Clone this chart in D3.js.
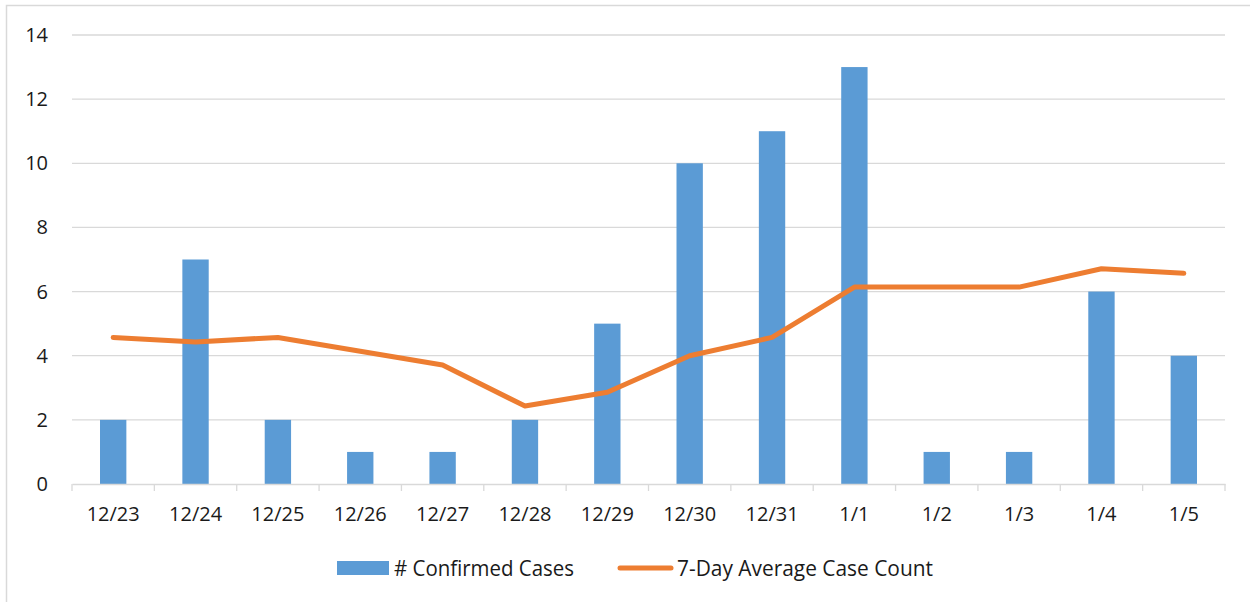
<!DOCTYPE html>
<html>
<head>
<meta charset="utf-8">
<script src="https://cdn.jsdelivr.net/npm/d3@7"></script>
<style>
  body { margin: 0; background: #fff; }
  svg text { font-family: "Open Sans", "Noto Sans", sans-serif; fill: #1a1a1a; }
</style>
</head>
<body>
<svg id="svgId"></svg>
<script>
// chart data
var days = ["12/23", "12/24", "12/25", "12/26", "12/27", "12/28", "12/29",
            "12/30", "12/31", "1/1", "1/2", "1/3", "1/4", "1/5"];
var confirmed = [2, 7, 2, 1, 1, 2, 5, 10, 11, 13, 1, 1, 6, 4];
var avg7 = [4.57, 4.43, 4.57, 4.14, 3.71, 2.43, 2.86, 4.0, 4.57, 6.14, 6.14, 6.14, 6.71, 6.57];
var yTicks = [0, 2, 4, 6, 8, 10, 12, 14];
var seriesNames = ["# Confirmed Cases", "7-Day Average Case Count"];

function drawChart() {
    var svgWidth = 1250, svgHeight = 602;
    var margin = { top: 35, right: 25, bottom: 118, left: 72 };
    var width = svgWidth - margin.left - margin.right;
    var height = svgHeight - margin.top - margin.bottom;

    var svg = d3.select("#svgId")
        .attr("width", svgWidth)
        .attr("height", svgHeight);

    // outer frame
    svg.append("rect")
        .attr("x", 6.5).attr("y", 5.5)
        .attr("width", 1300).attr("height", 700)
        .attr("fill", "none")
        .attr("stroke", "#d9d9d9")
        .attr("stroke-width", 1.5);

    var g = svg.append("g")
        .attr("transform", "translate(" + margin.left + "," + margin.top + ")");

    var x = d3.scaleBand().domain(days).range([0, width]).paddingInner(0.68).paddingOuter(0.34);
    var xc = d3.scaleBand().domain(days).range([0, width]);
    var y = d3.scaleLinear().domain([0, 14]).range([height, 0]);

    // gridlines
    g.append("g").selectAll("line")
        .data(yTicks.slice(1))
        .join("line")
        .attr("x1", 0).attr("x2", width)
        .attr("y1", function (d) { return y(d); })
        .attr("y2", function (d) { return y(d); })
        .attr("stroke", "#d9d9d9")
        .attr("stroke-width", 1.3);

    // y axis labels
    g.append("g").selectAll("text")
        .data(yTicks)
        .join("text")
        .attr("x", -24)
        .attr("y", function (d) { return y(d); })
        .attr("dy", "0.35em")
        .attr("text-anchor", "end")
        .attr("font-size", 20)
        .text(function (d) { return d; });

    // bars
    g.append("g").selectAll("rect")
        .data(confirmed)
        .join("rect")
        .attr("x", function (d, i) { return x(days[i]); })
        .attr("y", function (d) { return y(d); })
        .attr("width", x.bandwidth())
        .attr("height", function (d) { return height - y(d); })
        .attr("fill", "#5b9bd5");

    // x axis
    var xAxis = d3.axisBottom(xc).tickSize(0).tickPadding(23);
    var ax = g.append("g")
        .attr("transform", "translate(0," + height + ")")
        .call(xAxis);
    ax.select(".domain").attr("stroke", "#d9d9d9").attr("stroke-width", 1.3);
    ax.selectAll("text").attr("font-size", 20).attr("font-family", null).attr("fill", "#1a1a1a");
    // boundary ticks
    var bounds = days.map(function (d) { return xc(d); }).concat([width]);
    ax.selectAll(".bound")
        .data(bounds)
        .join("line")
        .attr("class", "bound")
        .attr("x1", function (d) { return d; }).attr("x2", function (d) { return d; })
        .attr("y1", 0).attr("y2", 7)
        .attr("stroke", "#d9d9d9")
        .attr("stroke-width", 1.3);

    // average line
    var line = d3.line()
        .x(function (d, i) { return xc(days[i]) + xc.bandwidth() / 2; })
        .y(function (d) { return y(d); });
    g.append("path")
        .datum(avg7)
        .attr("fill", "none")
        .attr("stroke", "#ed7d31")
        .attr("stroke-width", 5)
        .attr("stroke-linejoin", "round")
        .attr("stroke-linecap", "round")
        .attr("d", line);

    // legend
    var leg = svg.append("g").attr("transform", "translate(337,568)");
    leg.append("rect")
        .attr("x", 0).attr("y", -7)
        .attr("width", 52).attr("height", 14)
        .attr("fill", "#5b9bd5");
    leg.append("text")
        .attr("x", 57).attr("y", 0).attr("dy", "0.35em")
        .attr("font-size", 22)
        .attr("textLength", 180)
        .attr("lengthAdjust", "spacingAndGlyphs")
        .text(seriesNames[0]);
    leg.append("line")
        .attr("x1", 283).attr("x2", 334)
        .attr("y1", 0).attr("y2", 0)
        .attr("stroke", "#ed7d31")
        .attr("stroke-width", 5)
        .attr("stroke-linecap", "round");
    leg.append("text")
        .attr("x", 340).attr("y", 0).attr("dy", "0.35em")
        .attr("font-size", 22)
        .attr("textLength", 256)
        .attr("lengthAdjust", "spacingAndGlyphs")
        .text(seriesNames[1]);
}

drawChart();
</script>
</body>
</html>
